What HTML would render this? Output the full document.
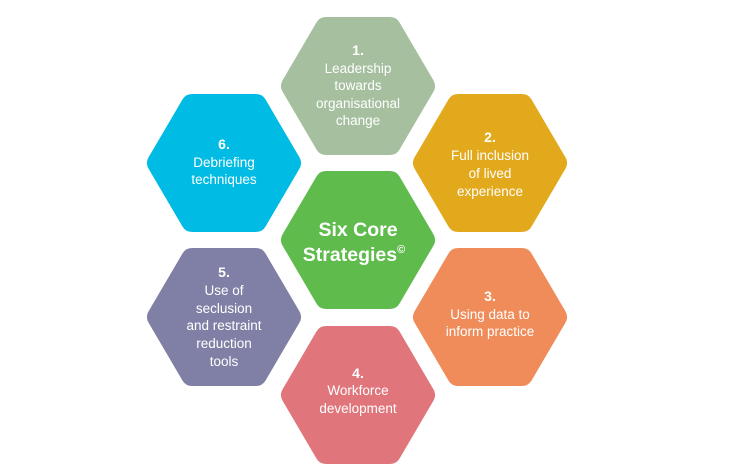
<!DOCTYPE html>
<html><head><style>
html,body{margin:0;padding:0;background:#fff;width:736px;height:476px;overflow:hidden}
svg{display:block}
text{font-family:"Liberation Sans",sans-serif;fill:#fff;text-anchor:middle}
.n{font-size:14px;font-weight:bold}
.t{font-size:13.5px}
.c{font-size:19.5px;font-weight:bold}
</style></head><body>
<svg width="736" height="476" viewBox="0 0 736 476">
<defs>
<polygon id="hx" points="-66,0 -32,-58 32,-58 66,0 32,58 -32,58" stroke-width="22" stroke-linejoin="round"/>
</defs>
<use href="#hx" x="358" y="86" fill="#a5bf9f" stroke="#a5bf9f"/>
<use href="#hx" x="224" y="163" fill="#00bce4" stroke="#00bce4"/>
<use href="#hx" x="490" y="163" fill="#e2a91c" stroke="#e2a91c"/>
<use href="#hx" x="224" y="317" fill="#8080a6" stroke="#8080a6"/>
<use href="#hx" x="490" y="317" fill="#f08c5a" stroke="#f08c5a"/>
<use href="#hx" x="358" y="395" fill="#e0767c" stroke="#e0767c"/>
<use href="#hx" x="358" y="240" fill="#5fbb4c" stroke="#5fbb4c"/>

<text class="n" x="358" y="55">1.</text>
<text class="t" x="358" y="73">Leadership</text>
<text class="t" x="358" y="90">towards</text>
<text class="t" x="358" y="108">organisational</text>
<text class="t" x="358" y="125">change</text>

<text class="n" x="224" y="149">6.</text>
<text class="t" x="224" y="167">Debriefing</text>
<text class="t" x="224" y="184">techniques</text>

<text class="n" x="490" y="142">2.</text>
<text class="t" x="490" y="160">Full inclusion</text>
<text class="t" x="490" y="178">of lived</text>
<text class="t" x="490" y="196">experience</text>

<text class="c" x="358" y="236">Six Core</text>
<text class="c" x="354" y="261">Strategies<tspan font-size="11" dy="-8">©</tspan></text>

<text class="n" x="224" y="277">5.</text>
<text class="t" x="224" y="295">Use of</text>
<text class="t" x="224" y="313">seclusion</text>
<text class="t" x="224" y="330">and restraint</text>
<text class="t" x="224" y="348">reduction</text>
<text class="t" x="224" y="366">tools</text>

<text class="n" x="490" y="301">3.</text>
<text class="t" x="490" y="319">Using data to</text>
<text class="t" x="490" y="336">inform practice</text>

<text class="n" x="358" y="378">4.</text>
<text class="t" x="358" y="395">Workforce</text>
<text class="t" x="358" y="413">development</text>
</svg>
</body></html>
